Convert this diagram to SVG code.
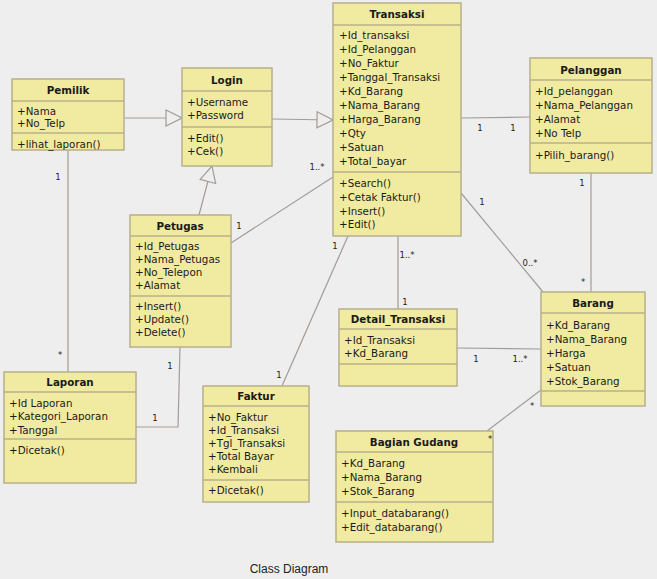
<svg xmlns="http://www.w3.org/2000/svg" width="657" height="579" viewBox="0 0 657 579">
<defs>
<style>
.box{fill:#f1eaa1;stroke:#b7b08a;stroke-width:1.5}
.sep{stroke:#b7b08a;stroke-width:1.5}
.t{font-family:"DejaVu Sans",Verdana,sans-serif;font-size:10.3px;fill:#1a1a1a}
.h{font-family:"DejaVu Sans",Verdana,sans-serif;font-size:10.3px;font-weight:bold;fill:#1a1a1a;text-anchor:middle}
.c{fill:none;stroke:#a29c98;stroke-width:1.2}
.m{font-family:"DejaVu Sans",Verdana,sans-serif;font-size:8.5px;fill:#222;text-anchor:middle}
</style>
<marker id="gen" viewBox="0 0 18 18" refX="17" refY="9" markerWidth="18" markerHeight="18" markerUnits="userSpaceOnUse" orient="auto">
<path d="M1,1 L17,9 L1,17 Z" fill="#eeeeee" stroke="#a29c98" stroke-width="1.2"/>
</marker>
</defs>
<rect width="657" height="579" fill="#eeeeee"/>

<g id="connectors">
<line class="c" x1="124" y1="118" x2="182" y2="118" marker-end="url(#gen)"/>
<line class="c" x1="272" y1="119" x2="333" y2="120" marker-end="url(#gen)"/>
<line class="c" x1="199" y1="215" x2="212" y2="166" marker-end="url(#gen)"/>
<line class="c" x1="231" y1="243" x2="333" y2="177"/>
<line class="c" x1="461" y1="118" x2="530" y2="117"/>
<line class="c" x1="461" y1="193" x2="543" y2="292"/>
<line class="c" x1="591" y1="173" x2="591" y2="292"/>
<line class="c" x1="398" y1="236" x2="398" y2="309"/>
<line class="c" x1="348" y1="236" x2="282" y2="386"/>
<line class="c" x1="457" y1="348" x2="541" y2="349"/>
<line class="c" x1="541" y1="390" x2="487" y2="431"/>
<line class="c" x1="68" y1="150" x2="68" y2="372"/>
<polyline class="c" points="180,347 178,427 136,427"/>
</g>

<g id="Pemilik">
<rect class="box" x="12" y="79" width="112" height="71"/>
<line class="sep" x1="12" y1="101" x2="124" y2="101"/>
<line class="sep" x1="12" y1="133" x2="124" y2="133"/>
<text class="h" x="68" y="94">Pemilik</text>
<text class="t" x="17" y="115">+Nama</text>
<text class="t" x="17" y="127">+No_Telp</text>
<text class="t" x="17" y="148">+lihat_laporan()</text>
</g>

<g id="Login">
<rect class="box" x="182" y="68" width="90" height="98"/>
<line class="sep" x1="182" y1="91" x2="272" y2="91"/>
<line class="sep" x1="182" y1="127" x2="272" y2="127"/>
<text class="h" x="227" y="84">Login</text>
<text class="t" x="187" y="106">+Username</text>
<text class="t" x="187" y="119">+Password</text>
<text class="t" x="187" y="142">+Edit()</text>
<text class="t" x="187" y="155">+Cek()</text>
</g>

<g id="Transaksi">
<rect class="box" x="333" y="3" width="128" height="233"/>
<line class="sep" x1="333" y1="25" x2="461" y2="25"/>
<line class="sep" x1="333" y1="172" x2="461" y2="172"/>
<text class="h" x="397" y="18">Transaksi</text>
<text class="t" x="339" y="39">+Id_transaksi</text>
<text class="t" x="339" y="53">+Id_Pelanggan</text>
<text class="t" x="339" y="67">+No_Faktur</text>
<text class="t" x="339" y="81">+Tanggal_Transaksi</text>
<text class="t" x="339" y="95">+Kd_Barang</text>
<text class="t" x="339" y="109">+Nama_Barang</text>
<text class="t" x="339" y="123">+Harga_Barang</text>
<text class="t" x="339" y="137">+Qty</text>
<text class="t" x="339" y="151">+Satuan</text>
<text class="t" x="339" y="165">+Total_bayar</text>
<text class="t" x="339" y="187">+Search()</text>
<text class="t" x="339" y="201">+Cetak Faktur()</text>
<text class="t" x="339" y="215">+Insert()</text>
<text class="t" x="339" y="228">+Edit()</text>
</g>

<g id="Pelanggan">
<rect class="box" x="530" y="58" width="122" height="115"/>
<line class="sep" x1="530" y1="80" x2="652" y2="80"/>
<line class="sep" x1="530" y1="143" x2="652" y2="143"/>
<text class="h" x="591" y="74">Pelanggan</text>
<text class="t" x="535" y="95">+Id_pelanggan</text>
<text class="t" x="535" y="109">+Nama_Pelanggan</text>
<text class="t" x="535" y="123">+Alamat</text>
<text class="t" x="535" y="137">+No Telp</text>
<text class="t" x="535" y="159">+Pilih_barang()</text>
</g>

<g id="Petugas">
<rect class="box" x="130" y="215" width="101" height="132"/>
<line class="sep" x1="130" y1="236" x2="231" y2="236"/>
<line class="sep" x1="130" y1="296" x2="231" y2="296"/>
<text class="h" x="180" y="230">Petugas</text>
<text class="t" x="135" y="250">+Id_Petugas</text>
<text class="t" x="135" y="263">+Nama_Petugas</text>
<text class="t" x="135" y="276">+No_Telepon</text>
<text class="t" x="135" y="289">+Alamat</text>
<text class="t" x="135" y="310">+Insert()</text>
<text class="t" x="135" y="323">+Update()</text>
<text class="t" x="135" y="336">+Delete()</text>
</g>

<g id="Detail_Transaksi">
<rect class="box" x="339" y="309" width="118" height="77"/>
<line class="sep" x1="339" y1="329" x2="457" y2="329"/>
<line class="sep" x1="339" y1="364" x2="457" y2="364"/>
<text class="h" x="398" y="323">Detail_Transaksi</text>
<text class="t" x="344" y="344">+Id_Transaksi</text>
<text class="t" x="344" y="357">+Kd_Barang</text>
</g>

<g id="Barang">
<rect class="box" x="541" y="292" width="104" height="114"/>
<line class="sep" x1="541" y1="313" x2="645" y2="313"/>
<line class="sep" x1="541" y1="391" x2="645" y2="391"/>
<text class="h" x="593" y="307">Barang</text>
<text class="t" x="546" y="329">+Kd_Barang</text>
<text class="t" x="546" y="343">+Nama_Barang</text>
<text class="t" x="546" y="357">+Harga</text>
<text class="t" x="546" y="371">+Satuan</text>
<text class="t" x="546" y="385">+Stok_Barang</text>
</g>

<g id="Bagian_Gudang">
<rect class="box" x="336" y="431" width="157" height="111"/>
<line class="sep" x1="336" y1="452" x2="493" y2="452"/>
<line class="sep" x1="336" y1="502" x2="493" y2="502"/>
<text class="h" x="414" y="446">Bagian Gudang</text>
<text class="t" x="341" y="467">+Kd_Barang</text>
<text class="t" x="341" y="481">+Nama_Barang</text>
<text class="t" x="341" y="495">+Stok_Barang</text>
<text class="t" x="341" y="517">+Input_databarang()</text>
<text class="t" x="341" y="531">+Edit_databarang()</text>
</g>

<g id="Laporan">
<rect class="box" x="4" y="372" width="132" height="111"/>
<line class="sep" x1="4" y1="392" x2="136" y2="392"/>
<line class="sep" x1="4" y1="439" x2="136" y2="439"/>
<text class="h" x="70" y="386">Laporan</text>
<text class="t" x="9" y="407">+Id Laporan</text>
<text class="t" x="9" y="420">+Kategori_Laporan</text>
<text class="t" x="9" y="434">+Tanggal</text>
<text class="t" x="9" y="454">+Dicetak()</text>
</g>

<g id="Faktur">
<rect class="box" x="203" y="386" width="106" height="116"/>
<line class="sep" x1="203" y1="406" x2="309" y2="406"/>
<line class="sep" x1="203" y1="480" x2="309" y2="480"/>
<text class="h" x="256" y="400">Faktur</text>
<text class="t" x="208" y="421">+No_Faktur</text>
<text class="t" x="208" y="434">+Id_Transaksi</text>
<text class="t" x="208" y="447">+Tgl_Transaksi</text>
<text class="t" x="208" y="460">+Total Bayar</text>
<text class="t" x="208" y="473">+Kembali</text>
<text class="t" x="208" y="494">+Dicetak()</text>
</g>

<g id="multiplicities">
<text class="m" x="58" y="180">1</text>
<text class="m" x="60" y="358">*</text>
<text class="m" x="317" y="170">1..*</text>
<text class="m" x="239" y="229">1</text>
<text class="m" x="335" y="249">1</text>
<text class="m" x="279" y="378">1</text>
<text class="m" x="407" y="258">1..*</text>
<text class="m" x="405" y="305">1</text>
<text class="m" x="480" y="131">1</text>
<text class="m" x="513" y="131">1</text>
<text class="m" x="582" y="186">1</text>
<text class="m" x="583" y="285">*</text>
<text class="m" x="482" y="205">1</text>
<text class="m" x="530" y="266">0..*</text>
<text class="m" x="476" y="362">1</text>
<text class="m" x="520" y="362">1..*</text>
<text class="m" x="532" y="409">*</text>
<text class="m" x="490" y="442">*</text>
<text class="m" x="170" y="369">1</text>
<text class="m" x="155" y="421">1</text>
</g>

<text x="289" y="573" text-anchor="middle" font-family="'Liberation Sans',Arial,sans-serif" font-size="12" fill="#222">Class Diagram</text>
</svg>
